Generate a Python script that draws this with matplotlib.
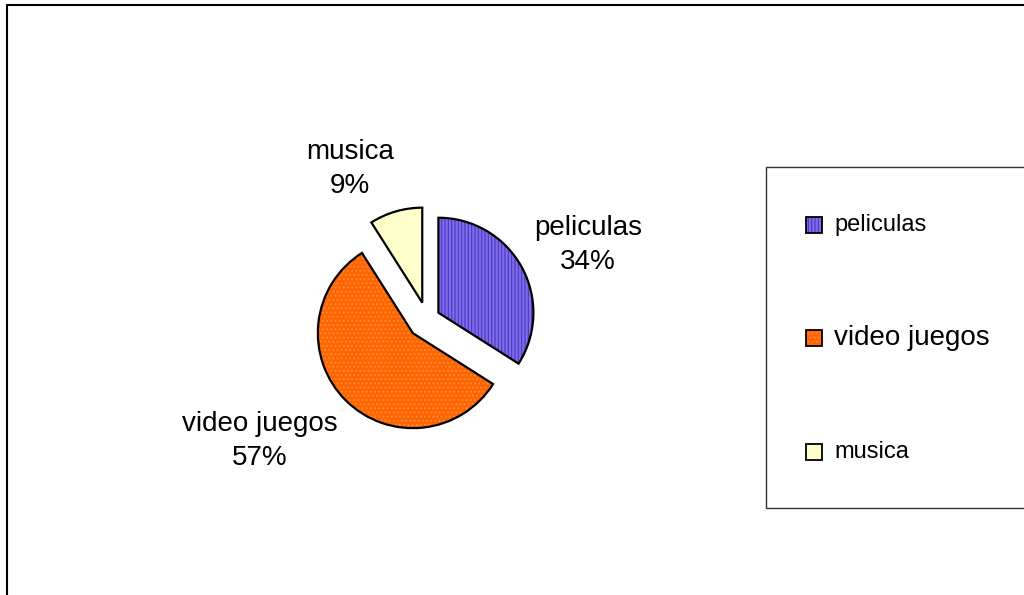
import matplotlib.pyplot as plt
from matplotlib.patches import Rectangle, Wedge

labels = ['peliculas', 'video juegos', 'musica']
shares = [34, 57, 9]
colors = ['#7F6BF0', '#FF6600', '#FFFFCC']
hatch_colors = ['#4A3AB5', '#FF8A40', '#FFFFCC']
hatches = ['|||||', '....', None]
# offsets in pixels (data units here are pixels)
explode = [13, 20, 17]
legend_sizes = [17, 20, 17]

W, H = 1024, 595
plt.rcParams['font.family'] = ['Liberation Sans', 'DejaVu Sans']
plt.rcParams['hatch.linewidth'] = 0.8

fig = plt.figure(figsize=(W / 100, H / 100), dpi=100)
ax = fig.add_axes([0, 0, 1, 1])

wedges, _ = ax.pie(shares, colors=colors, explode=explode, startangle=90,
                   counterclock=False, center=(427, H - 319), radius=95,
                   wedgeprops=dict(linewidth=0))
ax.set_xlim(0, W)
ax.set_ylim(0, H)
ax.set_aspect('auto')
ax.axis('off')

for w, h, hc in zip(wedges, hatches, hatch_colors):
    if h:
        w.set_hatch(h)
        w.set_edgecolor(hc)
    ax.add_patch(Wedge(w.center, w.r, w.theta1, w.theta2, fill=False,
                       edgecolor='black', lw=1.6))

# data labels
label_pos = [(588, 245), (260, 441), (350, 169)]
for lab, v, (x, y) in zip(labels, shares, label_pos):
    ax.text(x, H - y, f'{lab}\n{v}%', ha='center', va='center',
            fontsize=20, linespacing=1.4)

# legend box
ax.add_patch(Rectangle((766, H - 508), 270, 341, fill=False,
                       edgecolor='#333333', lw=1, clip_on=False))
legend_y = [225, 338, 452]
for lab, c, h, hc, fs, y in zip(labels, colors, hatches, hatch_colors,
                                legend_sizes, legend_y):
    sq = Rectangle((806, H - y - 8), 16, 16, facecolor=c, edgecolor=hc,
                   hatch=h, lw=0)
    ax.add_patch(sq)
    ax.add_patch(Rectangle((806, H - y - 8), 16, 16, fill=False,
                           edgecolor='black', lw=1.3))
    ax.text(834, H - y, lab, ha='left', va='center', fontsize=fs)

# outer frame
ax.plot([7, 7, W + 5], [-5, H - 5, H - 5], color='black', lw=1.5,
        clip_on=False)

fig.savefig('out.png', dpi=100)
